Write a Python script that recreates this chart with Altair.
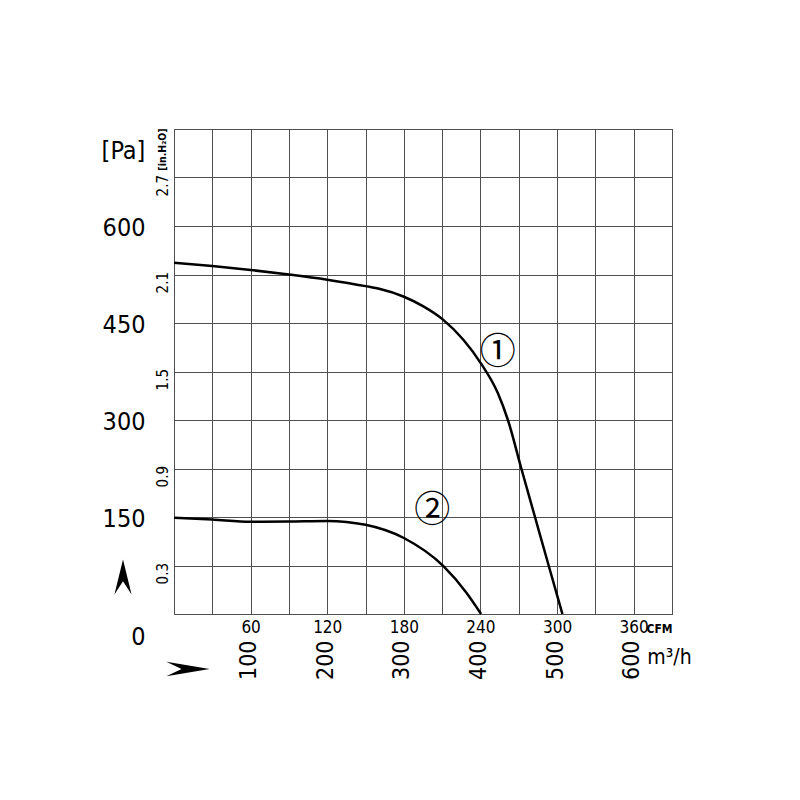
import altair as alt
import pandas as pd

# fan curves: flow in CFM, static pressure in Pa
cfm_1 = [0, 30, 60, 90, 120, 150, 161.4, 179.6, 195.3, 210.2, 226.6, 240.2, 253.5, 261.5, 272, 282.7, 293.4, 304.2]
pa_1 = [543, 538, 532, 525, 517, 507, 502.5, 491, 475.7, 456, 424, 388, 342, 300, 225, 150, 75, 0]

cfm_2 = [0, 30, 60, 90, 120, 150, 180, 211, 229, 240.5]
pa_2 = [149, 146, 142.5, 143, 144, 138, 117.5, 74, 33, 0]

# curve markers
marker_text = ['①', '②']
marker_cfm = [253.5, 202.3]
marker_pa = [403.6, 158.7]

cfm_grid = list(range(0, 391, 30))
pa_grid = list(range(0, 751, 75))
h2o_ticks = [75, 225, 375, 525, 675]
m3h_ticks = [60, 120, 180, 240, 300, 360]

NARROW = 'Liberation Sans Narrow, Arial Narrow, DejaVu Sans Condensed, sans-serif'
GRID = '#505050'

curves = pd.DataFrame({
    'cfm': cfm_1 + cfm_2,
    'pa': pa_1 + pa_2,
    'curve': ['1'] * len(cfm_1) + ['2'] * len(cfm_2),
})
markers = pd.DataFrame({'text': marker_text, 'cfm': marker_cfm, 'pa': marker_pa})

x_scale = alt.Scale(domain=[0, 390], nice=False, zero=True)
y_scale = alt.Scale(domain=[0, 750], nice=False, zero=True)

lines = alt.Chart(curves).mark_line(
    color='black', strokeWidth=2.5, interpolate='monotone'
).encode(
    x=alt.X(
        'cfm:Q',
        scale=x_scale,
        axis=alt.Axis(
            orient='bottom',
            values=cfm_grid,
            grid=True,
            gridColor=GRID,
            gridOpacity=1,
            gridWidth=1,
            ticks=False,
            tickSize=0,
            domain=False,
            labelExpr="datum.value % 60 == 0 && datum.value > 0 && datum.value < 390 ? datum.label : ''",
            labelFont=NARROW,
            labelFontSize=17,
            labelColor='black',
            labelPadding=5,
            labelBaseline='top',
            title='CFM',
            titleFont=NARROW,
            titleFontSize=12,
            titleFontWeight='bold',
            titleColor='black',
            titleX=485,
            titleY=14,
            titleAlign='center',
            titleBaseline='middle',
        ),
    ),
    y=alt.Y(
        'pa:Q',
        scale=y_scale,
        axis=alt.Axis(
            orient='left',
            values=pa_grid,
            grid=True,
            gridColor=GRID,
            gridOpacity=1,
            gridWidth=1,
            ticks=False,
            tickSize=0,
            domain=False,
            labelExpr="datum.value % 150 == 0 && datum.value < 750 ? datum.label : ''",
            labelFont=NARROW,
            labelFontSize=25,
            labelColor='black',
            labelPadding=29,
            labelOffset={'condition': {'test': 'datum.value == 0', 'value': 22}, 'value': 1},
            title='[Pa]',
            titleFont=NARROW,
            titleFontSize=25,
            titleFontWeight='normal',
            titleColor='black',
            titleAngle=0,
            titleX=-51,
            titleY=21,
            titleAlign='center',
            titleBaseline='middle',
        ),
    ),
    detail='curve:N',
)

labels = alt.Chart(markers).mark_text(
    font='Noto Sans CJK JP', fontSize=36, color='black', baseline='middle', align='center'
).encode(
    x=alt.X(
        'cfm:Q',
        scale=x_scale,
        axis=alt.Axis(
            orient='bottom',
            values=m3h_ticks,
            grid=False,
            ticks=False,
            tickSize=0,
            domain=False,
            labelExpr="format(datum.value / 0.6, 'd')",
            labelAngle=-90,
            labelAlign='right',
            labelBaseline='middle',
            labelFont=NARROW,
            labelFontSize=23,
            labelColor='black',
            labelPadding=26,
            labelOffset=-2,
            title='m³/h',
            titleFont=NARROW,
            titleFontSize=21,
            titleFontWeight='normal',
            titleColor='black',
            titleX=495,
            titleY=43,
            titleAlign='center',
            titleBaseline='middle',
        ),
    ),
    y=alt.Y(
        'pa:Q',
        scale=y_scale,
        axis=alt.Axis(
            orient='left',
            values=h2o_ticks,
            grid=False,
            ticks=False,
            tickSize=0,
            domain=False,
            labelExpr="format(datum.value / 250, '.1f')",
            labelAngle=-90,
            labelAlign='right',
            labelBaseline='middle',
            labelFont=NARROW,
            labelFontSize=15,
            labelColor='black',
            labelPadding=12,
            labelOffset=-3,
            title='[in.H₂O]',
            titleFont=NARROW,
            titleFontSize=10.5,
            titleFontWeight='bold',
            titleColor='black',
            titleAngle=-90,
            titleX=-12,
            titleY=20,
            titleAlign='center',
            titleBaseline='middle',
        ),
    ),
    text='text:N',
)

# direction arrows beside the axes
up_arrow = alt.Chart(pd.DataFrame({'a': [0]})).mark_point(
    shape='M0,-1 L0.49,1 L0,0.24 L-0.49,1 Z',
    size=1225, filled=True, color='black', opacity=1,
).encode(x=alt.value(-51), y=alt.value(448))

right_arrow = alt.Chart(pd.DataFrame({'a': [0]})).mark_point(
    shape='M1,0 L-1,-0.33 L-0.3,0 L-1,0.33 Z',
    size=1875, filled=True, color='black', opacity=1,
).encode(x=alt.value(14), y=alt.value(540))

chart = (
    alt.layer(lines, labels, up_arrow, right_arrow)
    .resolve_scale(x='shared', y='shared')
    .resolve_axis(x='independent', y='independent')
    .properties(
        width=498,
        height=485,
        autosize='none',
        padding={'left': 166, 'top': 121, 'right': 120, 'bottom': 178},
        background='white',
    )
    .configure_view(stroke=GRID, strokeWidth=1)
)

chart.save('out.html', embed_options={'renderer': 'svg', 'actions': False})
